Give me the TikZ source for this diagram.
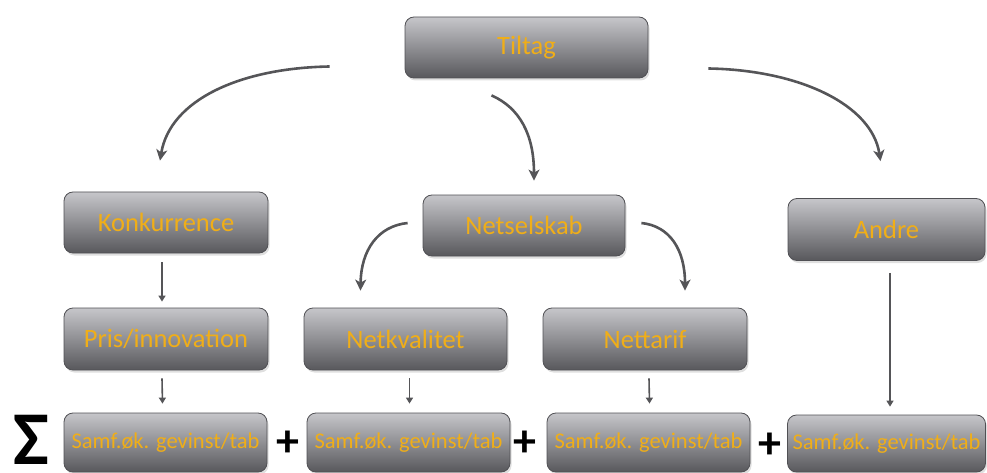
\documentclass[tikz,border=0pt]{standalone}
\usepackage{fontspec}
\setmainfont{Carlito}
\usetikzlibrary{arrows.meta,shadows}
\definecolor{boxtop}{RGB}{198,198,202}
\definecolor{boxbot}{RGB}{88,88,92}
\definecolor{boxline}{RGB}{80,80,84}
\definecolor{labeltext}{RGB}{240,174,24}
\definecolor{arrowgray}{RGB}{85,85,88}
\tikzset{
  gbox/.style={draw=boxline, line width=0.8pt, rounded corners=9pt,
    top color=boxtop, bottom color=boxbot, shading angle=0,
    text=labeltext, font=\fontsize{26.5}{28}\selectfont, inner sep=0pt,
    drop shadow={opacity=0.25, shadow xshift=1.5pt, shadow yshift=-2.5pt}},
  sumbox/.style={gbox, font=\fontsize{22.5}{24}\selectfont},
  bigarrow/.style={draw=arrowgray, line width=2.6pt,
    -{Stealth[length=11pt,width=11pt,inset=3pt]}},
  smallarrow/.style={draw=arrowgray, line width=1.6pt,
    -{Triangle[length=6pt,width=7pt]}},
  plussign/.style={font=\fontsize{46}{46}\selectfont\bfseries, inner sep=0pt}
}
\begin{document}
\begin{tikzpicture}[x=1pt,y=-1pt]
\useasboundingbox (0,0) rectangle (987,473);
% top level
\node[gbox, minimum width=243pt, minimum height=61pt] (tiltag) at (526.5,47.5) {Tiltag};
% middle level
\node[gbox, minimum width=204pt, minimum height=61pt] (konk) at (166,222.5) {Konkurrence};
\node[gbox, minimum width=202pt, minimum height=61pt] (nets) at (524,225.5) {Netselskab};
\node[gbox, minimum width=197pt, minimum height=62pt] (andre) at (886.5,229.5) {Andre};
% third level
\node[gbox, minimum width=204pt, minimum height=62pt] (pris) at (166,339) {Pris/innovation};
\node[gbox, minimum width=203pt, minimum height=62pt] (netkv) at (405.5,339) {Netkvalitet};
\node[gbox, minimum width=204pt, minimum height=62pt] (nettarif) at (645,339) {Nettarif};
% bottom row
\node[sumbox, minimum width=203pt, minimum height=59pt] (s1) at (165.5,442.5) {Samf.øk. gevinst/tab};
\node[sumbox, minimum width=203pt, minimum height=59pt] (s2) at (408.5,442.5) {Samf.øk. gevinst/tab};
\node[sumbox, minimum width=203pt, minimum height=59pt] (s3) at (648.5,442.5) {Samf.øk. gevinst/tab};
\node[sumbox, minimum width=198pt, minimum height=57pt] (s4) at (886.5,443.5) {Samf.øk. gevinst/tab};
% summation signs
\node[font=\fontsize{76}{76}\selectfont\bfseries, inner sep=0pt, anchor=base] (sigma) at (31,464) {Σ};
\node[plussign] (p1) at (288,444) {+};
\node[plussign] (p2) at (525,444) {+};
\node[plussign] (p3) at (770,446) {+};
% curved connectors
\coordinate (a1s) at ([xshift=-75pt,yshift=-19pt]tiltag.west);
\coordinate (a1e) at ([xshift=-6pt,yshift=31pt]konk.north);
\draw[bigarrow] (a1s) .. controls (240,68) and (170,100) .. (a1e);
\coordinate (a2s) at ([xshift=-35pt,yshift=-17pt]tiltag.south);
\coordinate (a2e) at ([xshift=10pt,yshift=14pt]nets.north);
\draw[bigarrow] (a2s) .. controls (520,108) and (534,135) .. (a2e);
\coordinate (a3s) at ([xshift=60pt,yshift=-21pt]tiltag.east);
\coordinate (a3e) at ([xshift=-6pt,yshift=37pt]andre.north);
\draw[bigarrow] (a3s) .. controls (800,70) and (872,105) .. (a3e);
\coordinate (a4s) at ([xshift=-15pt,yshift=2.5pt]nets.west);
\coordinate (a4e) at ([xshift=-45pt,yshift=17pt]netkv.north);
\draw[bigarrow] (a4s) .. controls (378,226) and (361,250) .. (a4e);
\coordinate (a5s) at ([xshift=16pt,yshift=2.5pt]nets.east);
\coordinate (a5e) at ([xshift=40pt,yshift=17pt]nettarif.north);
\draw[bigarrow] (a5s) .. controls (670,226) and (685,250) .. (a5e);
% straight connectors
\draw[smallarrow] ([xshift=-4pt,yshift=-9pt]konk.south) -- ([xshift=-4pt,yshift=6pt]pris.north);
\draw[smallarrow] ([xshift=-4pt,yshift=-8pt]pris.south) -- ([xshift=-3pt,yshift=9pt]s1.north);
\draw[smallarrow] ([xshift=4pt,yshift=-8pt]netkv.south) -- ([xshift=1pt,yshift=9pt]s2.north);
\draw[smallarrow] ([xshift=4pt,yshift=-8pt]nettarif.south) -- ([xshift=1pt,yshift=9pt]s3.north);
\draw[smallarrow] ([xshift=3.5pt,yshift=-12pt]andre.south) -- ([xshift=3.5pt,yshift=8pt]s4.north);
\end{tikzpicture}
\end{document}
